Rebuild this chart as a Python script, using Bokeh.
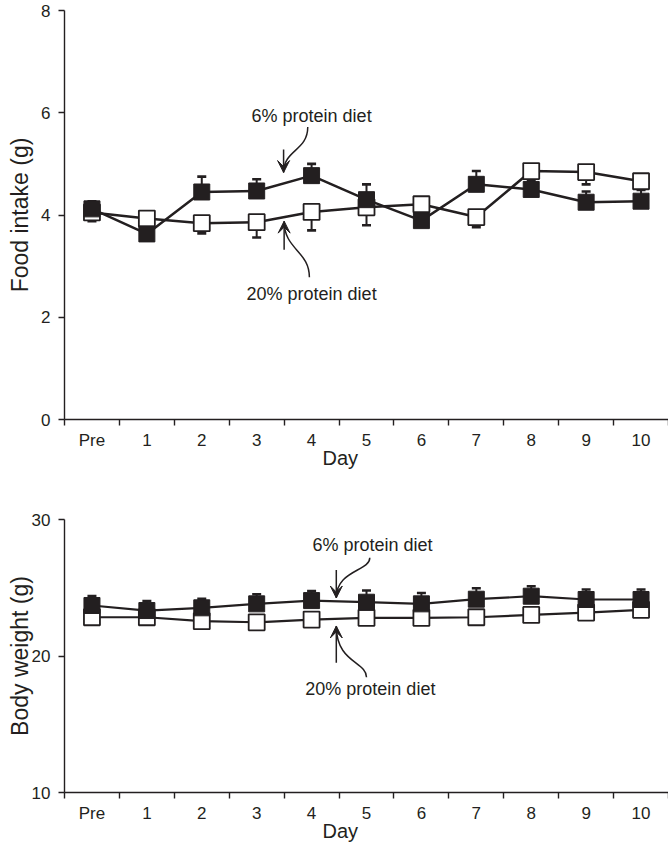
from bokeh.plotting import figure
from bokeh.models import FixedTicker, Label, Arrow, VeeHead, Title
from bokeh.layouts import column
from bokeh.embed import file_html
from bokeh.resources import INLINE

# ---------------- data ----------------
days = ["Pre", "1", "2", "3", "4", "5", "6", "7", "8", "9", "10"]
x_idx = list(range(len(days)))

# Food intake (g)
food_6 = [4.12, 3.63, 4.45, 4.47, 4.77, 4.30, 3.89, 4.60, 4.50, 4.25, 4.27]
food_6_err = [0.15, 0.08, 0.30, 0.23, 0.23, 0.30, 0.08, 0.26, 0.25, 0.21, 0.22]
food_20 = [4.05, 3.93, 3.84, 3.86, 4.06, 4.15, 4.21, 3.96, 4.86, 4.84, 4.66]
food_20_err = [0.17, 0.08, 0.20, 0.30, 0.36, 0.35, 0.08, 0.20, 0.20, 0.24, 0.10]

# Body weight (g)
bw_6 = [23.70, 23.33, 23.53, 23.82, 24.06, 23.94, 23.82, 24.16, 24.38, 24.14, 24.14]
bw_6_err = [0.70, 0.70, 0.66, 0.70, 0.70, 0.86, 0.80, 0.80, 0.73, 0.73, 0.73]
bw_20 = [22.84, 22.84, 22.55, 22.47, 22.67, 22.80, 22.80, 22.84, 23.01, 23.18, 23.38]
bw_20_err = [0.40, 0.40, 0.40, 0.40, 0.40, 0.40, 0.40, 0.40, 0.40, 0.40, 0.40]

label_6 = "6% protein diet"
label_20 = "20% protein diet"

INK = "#231f20"
FONT = "Liberation Sans"


def make_panel(height, yrange, yticks, border_top, border_bottom, ylab_standoff,
               s6, e6, s20, e20, ylabel,
               txt6, txt20, curve6, curve20, marker_size, lw):
    p = figure(width=668, height=height, x_range=(-0.5, 10.5), y_range=yrange,
               output_backend="svg", toolbar_location=None,
               min_border_left=64, min_border_right=0,
               min_border_top=border_top, min_border_bottom=border_bottom)
    p.outline_line_color = None
    p.grid.visible = False
    p.background_fill_color = "white"
    p.border_fill_color = "white"

    # x axis: labels at category centres, tick marks at boundaries
    xa = p.xaxis[0]
    xa.ticker = FixedTicker(ticks=x_idx, minor_ticks=[i - 0.5 for i in range(len(days) + 1)])
    xa.major_label_overrides = {i: d for i, d in zip(x_idx, days)}
    xa.major_tick_out = 0
    xa.major_tick_in = 0
    xa.minor_tick_out = 6
    xa.minor_tick_in = 0
    xa.major_label_standoff = 5
    xa.major_label_text_font = FONT
    xa.major_label_text_font_size = "17px"
    xa.major_label_text_color = INK
    xa.axis_line_color = INK
    xa.axis_line_width = 1.4
    xa.minor_tick_line_color = INK
    xa.minor_tick_line_width = 1.4

    ya = p.yaxis[0]
    ya.ticker = FixedTicker(ticks=yticks)
    ya.major_tick_out = 6
    ya.major_tick_in = 0
    ya.minor_tick_out = 0
    ya.minor_tick_in = 0
    ya.major_label_standoff = 8
    ya.major_label_text_font = FONT
    ya.major_label_text_font_size = "17px"
    ya.major_label_text_color = INK
    ya.axis_line_color = INK
    ya.axis_line_width = 1.4
    ya.major_tick_line_color = INK
    ya.major_tick_line_width = 1.4
    ya.axis_label = ylabel
    ya.axis_label_text_font = FONT
    ya.axis_label_text_font_size = "23px"
    ya.axis_label_text_font_style = "normal"
    ya.axis_label_text_color = INK
    ya.axis_label_standoff = ylab_standoff

    # connecting lines
    p.line(x_idx, s20, line_color=INK, line_width=lw)
    p.line(x_idx, s6, line_color=INK, line_width=lw)

    # one-sided error bars: 20% downward, 6% upward
    lo20 = [v - e for v, e in zip(s20, e20)]
    hi6 = [v + e for v, e in zip(s6, e6)]
    p.segment(x0=x_idx, y0=s20, x1=x_idx, y1=lo20, line_color=INK, line_width=2)
    p.scatter(x_idx, lo20, marker="dash", size=9, line_color=INK, line_width=2.6)
    p.segment(x0=x_idx, y0=s6, x1=x_idx, y1=hi6, line_color=INK, line_width=2)
    p.scatter(x_idx, hi6, marker="dash", size=9, line_color=INK, line_width=2.6)

    # markers
    p.scatter(x_idx, s20, marker="square", size=marker_size, fill_color="white",
              line_color=INK, line_width=1.8)
    p.scatter(x_idx, s6, marker="square", size=marker_size, fill_color=INK,
              line_color=INK, line_width=1.0)

    # annotations
    for (tx, ty, txt) in [(txt6[0], txt6[1], label_6), (txt20[0], txt20[1], label_20)]:
        p.add_layout(Label(x=tx, y=ty, text=txt, text_align="center", text_baseline="middle",
                           text_font=FONT, text_font_size="18px", text_color=INK))
    for c in (curve6, curve20):
        (x0, y0), (cx0, cy0), (cx1, cy1), (x1, y1) = c
        p.bezier(x0=[x0], y0=[y0], cx0=[cx0], cy0=[cy0], cx1=[cx1], cy1=[cy1],
                 x1=[x1], y1=[y1], line_color=INK, line_width=1.5)
        p.add_layout(Arrow(end=VeeHead(size=12, fill_color=INK, line_color=INK, line_width=1),
                           x_start=cx1, y_start=cy1, x_end=x1, y_end=y1,
                           line_color=INK, line_width=1.5))

    # x title "Day", placed under the middle of the axis span (left of centre)
    p.add_layout(Title(text="Day", align="left", vertical_align="top", offset=258,
                       standoff=-12, text_font=FONT, text_font_size="20px",
                       text_font_style="normal", text_color=INK), "below")
    return p


p1 = make_panel(470, (0, 8), [0, 2, 4, 6, 8], 10, 51, 5,
                food_6, food_6_err, food_20, food_20_err,
                "Food intake (g)",
                (4.0, 5.94), (4.0, 2.45),
                ((3.93, 5.72), (3.93, 5.25), (3.49, 5.28), (3.49, 4.83)),
                ((3.96, 2.78), (3.96, 3.30), (3.50, 3.32), (3.50, 3.88)),
                16, 2.5)

p2 = make_panel(375, (10, 30), [10, 20, 30], 49, 53, -4,
                bw_6, bw_6_err, bw_20, bw_20_err,
                "Body weight (g)",
                (5.11, 28.1), (5.07, 17.55),
                ((5.06, 27.2), (5.06, 26.2), (4.45, 26.3), (4.45, 24.25)),
                ((5.0, 18.45), (5.0, 19.6), (4.45, 19.5), (4.45, 22.2)),
                16, 2.2)

layout = column(p1, p2, spacing=0)
open("out.html", "w").write(file_html(layout, INLINE))
